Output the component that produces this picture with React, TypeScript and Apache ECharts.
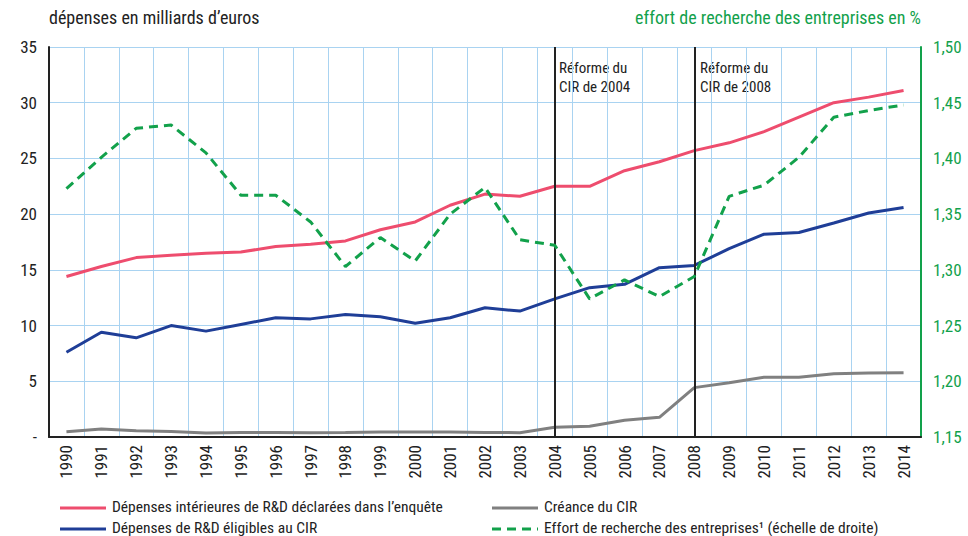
import React, { useEffect, useRef } from "react";
import * as echarts from "echarts";

const years = ["1990","1991","1992","1993","1994","1995","1996","1997","1998","1999","2000","2001","2002","2003","2004","2005","2006","2007","2008","2009","2010","2011","2012","2013","2014"];
const depensesInterieures = [14.4,15.3,16.1,16.3,16.5,16.6,17.1,17.3,17.6,18.6,19.3,20.8,21.8,21.6,22.5,22.5,23.9,24.7,25.7,26.4,27.4,28.7,30.0,30.5,31.1];
const depensesEligibles = [7.6,9.4,8.9,10.0,9.5,10.1,10.7,10.6,11.0,10.8,10.2,10.7,11.6,11.3,12.4,13.4,13.7,15.2,15.4,16.9,18.2,18.35,19.2,20.1,20.6];
const creanceCIR = [0.48,0.72,0.55,0.5,0.36,0.4,0.4,0.38,0.4,0.45,0.45,0.45,0.4,0.39,0.87,0.96,1.5,1.77,4.43,4.87,5.36,5.36,5.68,5.74,5.77];
const effortRecherche = [1.373,1.401,1.427,1.430,1.405,1.367,1.367,1.343,1.303,1.329,1.308,1.350,1.374,1.327,1.322,1.274,1.291,1.276,1.294,1.366,1.376,1.401,1.437,1.443,1.448];
const reformYears = ["2004", "2008"];

const FONT = "'Liberation Sans Narrow', 'Roboto Condensed', 'Liberation Sans', Arial, sans-serif";
const RED = "#ee4d6e";
const BLUE = "#1f3e97";
const GRAY = "#808080";
const GREEN = "#12a14b";

export default function App() {
  const ref = useRef<HTMLDivElement>(null);
  useEffect(() => {
    if (!ref.current) return;
    const chart = echarts.init(ref.current, undefined, { renderer: "svg" });
    chart.setOption({
      animation: false,
      textStyle: { fontFamily: FONT },
      grid: { left: 49, right: 47, top: 47, bottom: 99, containLabel: false },
      legend: { show: false },
      xAxis: {
        type: "category",
        data: years,
        boundaryGap: true,
        axisLine: { lineStyle: { color: "#222", width: 2 } },
        axisTick: { show: false },
        axisLabel: { rotate: 90, fontSize: 17, color: "#222", margin: 8, interval: 0, fontFamily: FONT },
        splitLine: { show: true, interval: 0, lineStyle: { color: "#a9d3f1", width: 1 } },
      },
      yAxis: [
        {
          type: "value",
          min: 0,
          max: 35,
          interval: 5,
          axisLine: { show: true, lineStyle: { color: "#222", width: 2 } },
          axisTick: { show: false },
          axisLabel: { fontSize: 17, color: "#222", margin: 12, fontFamily: FONT, formatter: (v: number) => (v === 0 ? "-" : String(v)) },
          splitLine: { show: true, lineStyle: { color: "#a9d3f1", width: 1 } },
        },
        {
          type: "value",
          min: 1.15,
          max: 1.5,
          interval: 0.05,
          position: "right",
          axisLine: { show: true, lineStyle: { color: GREEN, width: 2 } },
          axisTick: { show: false },
          axisLabel: { fontSize: 17, color: GREEN, margin: 12, fontFamily: FONT, formatter: (v: number) => v.toFixed(2).replace(".", ",") },
          splitLine: { show: false },
        },
      ],
      series: [
        {
          name: "Dépenses intérieures de R&D déclarées dans l’enquête",
          type: "line",
          data: depensesInterieures,
          symbol: "none",
          lineStyle: { color: RED, width: 3 },
          itemStyle: { color: RED },
          z: 4,
          markLine: {
            silent: true,
            symbol: "none",
            label: { show: false },
            lineStyle: { color: "#222", width: 2, type: "solid" },
            data: reformYears.map((y) => ({ xAxis: y })),
          },
        },
        {
          name: "Dépenses de R&D éligibles au CIR",
          type: "line",
          data: depensesEligibles,
          symbol: "none",
          lineStyle: { color: BLUE, width: 3 },
          itemStyle: { color: BLUE },
          z: 4,
        },
        {
          name: "Créance du CIR",
          type: "line",
          data: creanceCIR,
          symbol: "none",
          lineStyle: { color: GRAY, width: 3 },
          itemStyle: { color: GRAY },
          z: 3,
        },
        {
          name: "Effort de recherche des entreprises¹ (échelle de droite)",
          type: "line",
          yAxisIndex: 1,
          data: effortRecherche,
          symbol: "none",
          lineStyle: { color: GREEN, width: 3, type: [9, 6] },
          itemStyle: { color: GREEN },
          z: 5,
        },
      ],
      graphic: [
        { type: "text", left: 49, top: 8, style: { text: "dépenses en milliards d’euros", fontSize: 18, fill: "#222", fontFamily: FONT } },
        { type: "text", right: 47, top: 8, style: { text: "effort de recherche des entreprises en %", fontSize: 18, fill: GREEN, fontFamily: FONT } },
        { type: "text", left: 559, top: 58, style: { text: "Réforme du\nCIR de 2004", fontSize: 15, lineHeight: 19, fill: "#222", fontFamily: FONT } },
        { type: "text", left: 700, top: 58, style: { text: "Réforme du\nCIR de 2008", fontSize: 15, lineHeight: 19, fill: "#222", fontFamily: FONT } },
        { type: "line", shape: { x1: 60, y1: 508, x2: 106, y2: 508 }, style: { stroke: RED, lineWidth: 3 } },
        { type: "text", left: 112, top: 499, style: { text: "Dépenses intérieures de R&D déclarées dans l’enquête", fontSize: 15.5, fill: "#222", fontFamily: FONT } },
        { type: "line", shape: { x1: 60, y1: 529, x2: 106, y2: 529 }, style: { stroke: BLUE, lineWidth: 3 } },
        { type: "text", left: 112, top: 520, style: { text: "Dépenses de R&D éligibles au CIR", fontSize: 15.5, fill: "#222", fontFamily: FONT } },
        { type: "line", shape: { x1: 492, y1: 508, x2: 538, y2: 508 }, style: { stroke: GRAY, lineWidth: 3 } },
        { type: "text", left: 544, top: 499, style: { text: "Créance du CIR", fontSize: 15.5, fill: "#222", fontFamily: FONT } },
        { type: "line", shape: { x1: 492, y1: 529, x2: 538, y2: 529 }, style: { stroke: GREEN, lineWidth: 3, lineDash: [9, 6] } },
        { type: "text", left: 544, top: 520, style: { text: "Effort de recherche des entreprises¹ (échelle de droite)", fontSize: 15.5, fill: "#222", fontFamily: FONT } },
      ],
    });
    return () => chart.dispose();
  }, []);
  return <div ref={ref} style={{ width: 968, height: 536, position: "fixed", left: 0, top: 0, background: "#fff" }} />;
}
